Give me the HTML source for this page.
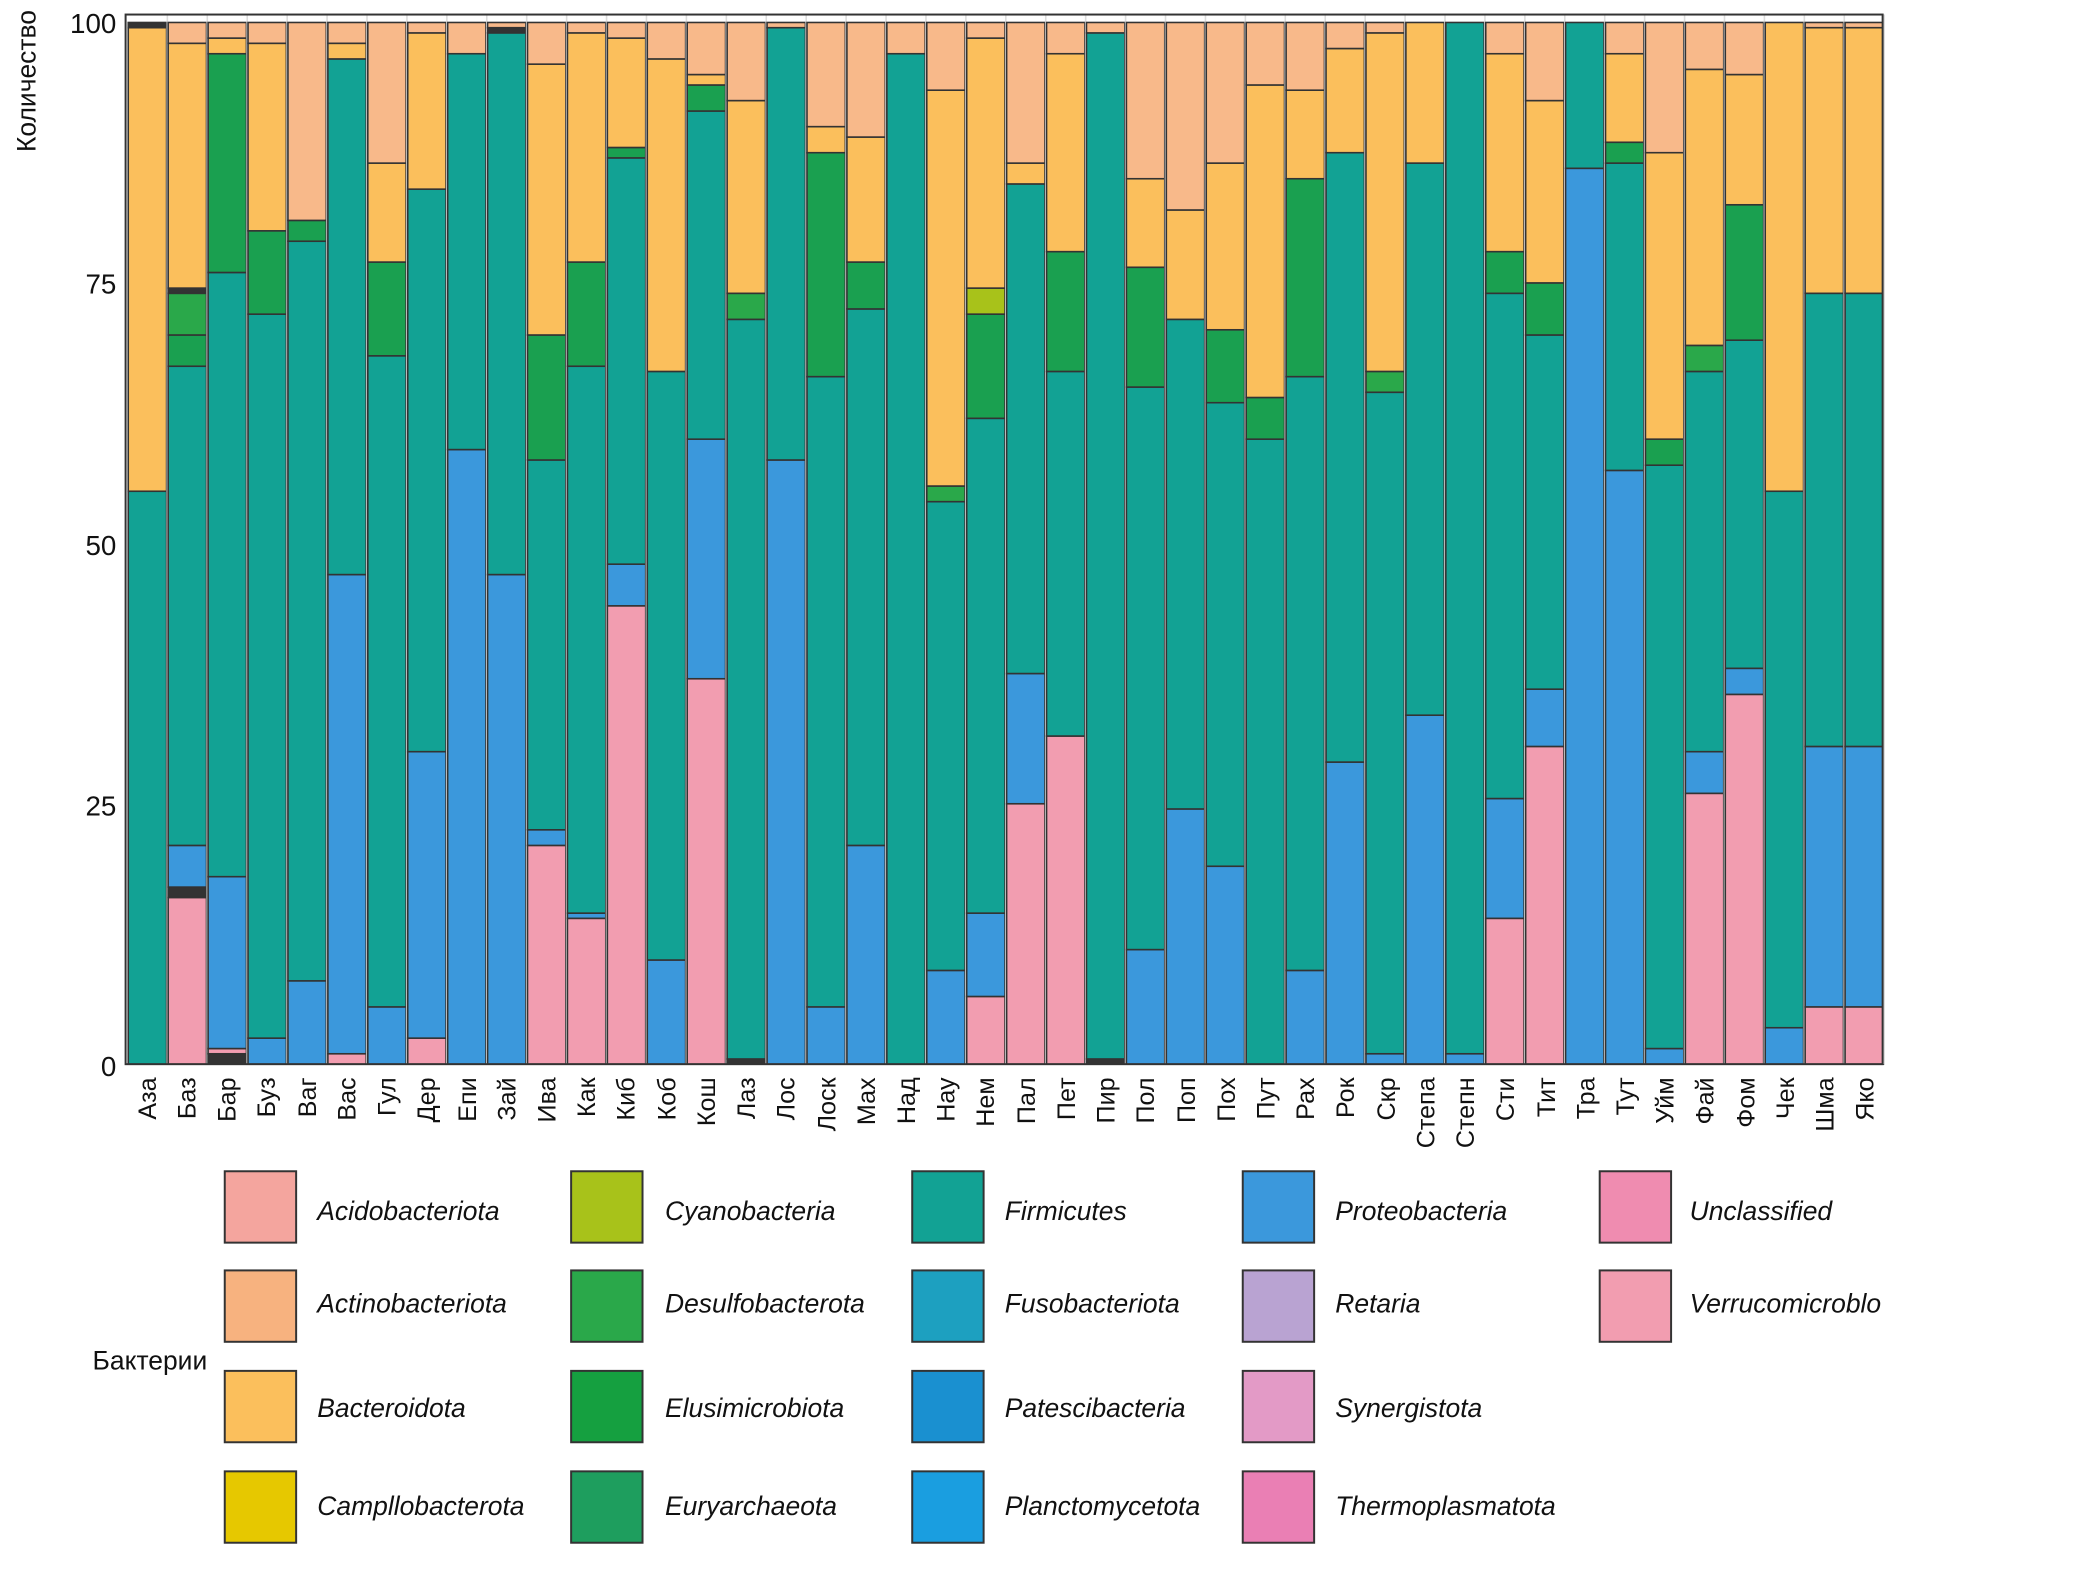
<!DOCTYPE html>
<html><head><meta charset="utf-8"><style>
html,body{margin:0;padding:0;background:#fff;}
svg{display:block;}
text{font-family:"Liberation Sans",sans-serif;}
.lab{font-size:19px;fill:#111;}
.leg{font-size:20px;font-style:italic;fill:#111;}
</style></head><body>
<svg id="s" width="2073" height="1589" viewBox="0 0 1568 1202" preserveAspectRatio="none" xmlns="http://www.w3.org/2000/svg">
<rect width="1568" height="1202" fill="#fff"/>
<g id="bars"></g>
<rect x="95" y="11" width="1329" height="794" fill="none" stroke="#333" stroke-width="1.5"/>
<g font-size="21" fill="#111" text-anchor="end">
<text x="88" y="25">100</text><text x="88" y="222">75</text><text x="88" y="420">50</text><text x="88" y="617">25</text><text x="88" y="814">0</text>
</g>
<text transform="translate(27,115) rotate(-90)" font-size="20" fill="#111">Количество</text>
<g class="lab" text-anchor="end">
<text transform="translate(118,815) rotate(-90)">Аза</text>
<text transform="translate(148,815) rotate(-90)">Баз</text>
<text transform="translate(178,815) rotate(-90)">Бар</text>
<text transform="translate(208,815) rotate(-90)">Буз</text>
<text transform="translate(239,815) rotate(-90)">Ваг</text>
<text transform="translate(269,815) rotate(-90)">Вас</text>
<text transform="translate(299,815) rotate(-90)">Гул</text>
<text transform="translate(329,815) rotate(-90)">Дер</text>
<text transform="translate(360,815) rotate(-90)">Епи</text>
<text transform="translate(390,815) rotate(-90)">Зай</text>
<text transform="translate(420,815) rotate(-90)">Ива</text>
<text transform="translate(450,815) rotate(-90)">Как</text>
<text transform="translate(480,815) rotate(-90)">Киб</text>
<text transform="translate(511,815) rotate(-90)">Коб</text>
<text transform="translate(541,815) rotate(-90)">Кош</text>
<text transform="translate(571,815) rotate(-90)">Лаз</text>
<text transform="translate(601,815) rotate(-90)">Лос</text>
<text transform="translate(632,815) rotate(-90)">Лоск</text>
<text transform="translate(662,815) rotate(-90)">Мах</text>
<text transform="translate(692,815) rotate(-90)">Над</text>
<text transform="translate(722,815) rotate(-90)">Нау</text>
<text transform="translate(752,815) rotate(-90)">Нем</text>
<text transform="translate(783,815) rotate(-90)">Пал</text>
<text transform="translate(813,815) rotate(-90)">Пет</text>
<text transform="translate(843,815) rotate(-90)">Пир</text>
<text transform="translate(873,815) rotate(-90)">Пол</text>
<text transform="translate(904,815) rotate(-90)">Поп</text>
<text transform="translate(934,815) rotate(-90)">Пох</text>
<text transform="translate(964,815) rotate(-90)">Пут</text>
<text transform="translate(994,815) rotate(-90)">Рах</text>
<text transform="translate(1024,815) rotate(-90)">Рок</text>
<text transform="translate(1055,815) rotate(-90)">Скр</text>
<text transform="translate(1085,815) rotate(-90)">Степа</text>
<text transform="translate(1115,815) rotate(-90)">Степн</text>
<text transform="translate(1145,815) rotate(-90)">Сти</text>
<text transform="translate(1176,815) rotate(-90)">Тит</text>
<text transform="translate(1206,815) rotate(-90)">Тра</text>
<text transform="translate(1236,815) rotate(-90)">Тут</text>
<text transform="translate(1266,815) rotate(-90)">Уйм</text>
<text transform="translate(1296,815) rotate(-90)">Фай</text>
<text transform="translate(1327,815) rotate(-90)">Фом</text>
<text transform="translate(1357,815) rotate(-90)">Чек</text>
<text transform="translate(1387,815) rotate(-90)">Шма</text>
<text transform="translate(1417,815) rotate(-90)">Яко</text>
</g>
<text x="70" y="1036" font-size="20" fill="#111">Бактерии</text>
<g stroke="#333" stroke-width="1.5">
<rect x="170" y="886" width="54" height="54" fill="#f4a59e"/>
<rect x="170" y="961" width="54" height="54" fill="#f7b27f"/>
<rect x="170" y="1037" width="54" height="54" fill="#fbbf5c"/>
<rect x="170" y="1113" width="54" height="54" fill="#e6c800"/>
<rect x="432" y="886" width="54" height="54" fill="#a8c21a"/>
<rect x="432" y="961" width="54" height="54" fill="#2aa84a"/>
<rect x="432" y="1037" width="54" height="54" fill="#15a040"/>
<rect x="432" y="1113" width="54" height="54" fill="#1e9e5e"/>
<rect x="690" y="886" width="54" height="54" fill="#12a294"/>
<rect x="690" y="961" width="54" height="54" fill="#1da0c0"/>
<rect x="690" y="1037" width="54" height="54" fill="#1a90d0"/>
<rect x="690" y="1113" width="54" height="54" fill="#1a9ee0"/>
<rect x="940" y="886" width="54" height="54" fill="#3b98dc"/>
<rect x="940" y="961" width="54" height="54" fill="#b9a3d2"/>
<rect x="940" y="1037" width="54" height="54" fill="#e39ac6"/>
<rect x="940" y="1113" width="54" height="54" fill="#ea7fb4"/>
<rect x="1210" y="886" width="54" height="54" fill="#ef8cb0"/>
<rect x="1210" y="961" width="54" height="54" fill="#f29db0"/>
</g>
<g class="leg">
<text x="240" y="923">Acidobacteriota</text>
<text x="240" y="993">Actinobacteriota</text>
<text x="240" y="1072">Bacteroidota</text>
<text x="240" y="1146">Campllobacterota</text>
<text x="503" y="923">Cyanobacteria</text>
<text x="503" y="993">Desulfobacterota</text>
<text x="503" y="1072">Elusimicrobiota</text>
<text x="503" y="1146">Euryarchaeota</text>
<text x="760" y="923">Firmicutes</text>
<text x="760" y="993">Fusobacteriota</text>
<text x="760" y="1072">Patescibacteria</text>
<text x="760" y="1146">Planctomycetota</text>
<text x="1010" y="923">Proteobacteria</text>
<text x="1010" y="993">Retaria</text>
<text x="1010" y="1072">Synergistota</text>
<text x="1010" y="1146">Thermoplasmatota</text>
<text x="1278" y="923">Unclassified</text>
<text x="1278" y="993">Verrucomicroblo</text>
</g>
</svg>
<script>
var C={p:"#f29db0",b:"#3b98dc",t:"#12a294",g:"#1aa050",y:"#fbbf5c",a:"#f8b98a",d:"#333",o:"#a8c21a",G:"#2aa84a"};
var D=[
"t55 y99.5 d100",
"p16 d17 b21 t67 g70 G74 d74.5 y98 a100",
"d1 p1.5 b18 t76 g97 y98.5 a100",
"b2.5 t72 g80 y98 a100",
"b8 t79 g81 a100",
"p1 b47 t96.5 y98 a100",
"b5.5 t68 g77 y86.5 a100",
"p2.5 b30 t84 y99 a100",
"b59 t97 a100",
"b47 t99 d99.5 a100",
"p21 b22.5 t58 g70 y96 a100",
"p14 b14.5 t67 g77 y99 a100",
"p44 b48 t87 g88 y98.5 a100",
"b10 t66.5 y96.5 a100",
"p37 b60 t91.5 g94 y95 a100",
"d0.5 t71.5 G74 y92.5 a100",
"b58 t99.5 a100",
"b5.5 t66 g87.5 y90 a100",
"b21 t72.5 g77 y89 a100",
"t97 a100",
"b9 t54 G55.5 y93.5 a100",
"p6.5 b14.5 t62 g72 o74.5 y98.5 a100",
"p25 b37.5 t84.5 y86.5 a100",
"p31.5 t66.5 g78 y97 a100",
"d0.5 t99 a100",
"b11 t65 g76.5 y85 a100",
"b24.5 t71.5 y82 a100",
"b19 t63.5 g70.5 y86.5 a100",
"t60 g64 y94 a100",
"b9 t66 g85 y93.5 a100",
"b29 t87.5 y97.5 a100",
"b1 t64.5 G66.5 y99 a100",
"b33.5 t86.5 y100",
"b1 t100",
"p14 b25.5 t74 g78 y97 a100",
"p30.5 b36 t70 g75 y92.5 a100",
"b86 t100",
"b57 t86.5 g88.5 y97 a100",
"b1.5 t57.5 g60 y87.5 a100",
"p26 b30 t66.5 G69 y95.5 a100",
"p35.5 b38 t69.5 g82.5 y95 a100",
"b3.5 t55 y100",
"p5.5 b30.5 t74 y99.5 a100",
"p5.5 b30.5 t74 y99.5 a100"];
var s="",Y=function(v){return 805-v*7.88;};
D.forEach(function(r,i){var x=97+i*30.2,prev=0;
r.split(" ").forEach(function(tok){var c=C[tok[0]],v=parseFloat(tok.slice(1));
s+='<rect x="'+x+'" y="'+Y(v)+'" width="29" height="'+(Y(prev)-Y(v))+'" fill="'+c+'" stroke="#333" stroke-width="1.2"/>';prev=v;});
s+='<rect x="'+(x+29)+'" y="11" width="1.2" height="794" fill="#ddd"/>';});
document.getElementById("bars").innerHTML=s;
</script>
</body></html>
